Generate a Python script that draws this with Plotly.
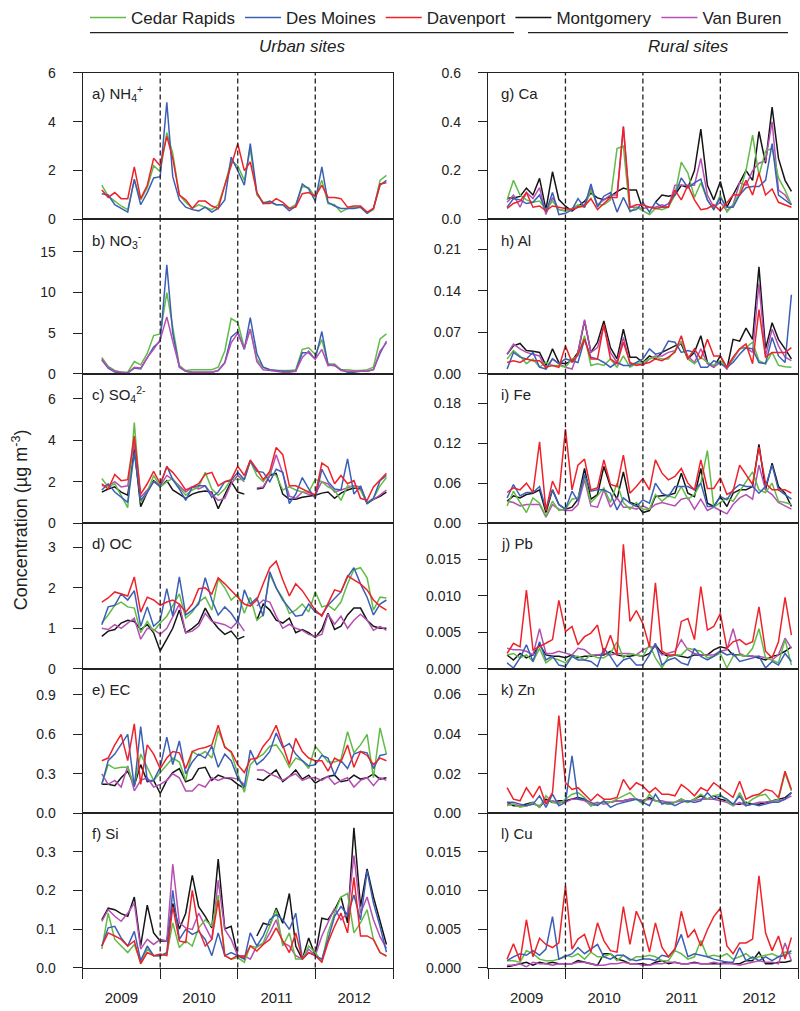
import plotly.graph_objects as go
import pandas as pd

# ---------------- data ----------------
months = pd.date_range('2009-04-01', periods=45, freq='MS')
sites = ['Cedar Rapids', 'Des Moines', 'Davenport', 'Montgomery', 'Van Buren']
site_colors = {'Cedar Rapids': '#62bb47', 'Des Moines': '#3c5fb6', 'Davenport': '#ee2229',
               'Montgomery': '#151515', 'Van Buren': '#b64fb4'}
N = None

# a) NH4+
a_CR = [1.4,0.95,0.75,0.55,0.4,1.6,0.8,1.3,2.2,1.95,3.55,2.7,1.0,0.7,0.45,0.6,0.5,0.4,0.6,1.4,2.4,2.2,1.6,2.9,1.0,0.7,0.7,0.6,0.6,0.45,0.6,1.35,1.3,0.9,1.6,0.65,0.6,0.3,0.45,0.5,0.5,0.25,0.4,1.6,1.8]
a_DM = [1.05,1.0,0.6,0.45,0.3,1.65,0.6,1.1,1.7,1.75,4.8,1.75,0.8,0.5,0.4,0.35,0.5,0.3,0.45,0.8,2.55,2.0,1.4,3.1,1.1,0.65,0.75,0.6,0.6,0.35,0.55,1.45,1.25,0.75,2.15,0.7,0.55,0.45,0.45,0.45,0.5,0.25,0.45,1.4,1.6]
a_DAV = [1.2,0.9,1.1,0.85,0.85,2.15,0.85,1.4,2.5,2.2,3.4,2.5,1.0,0.8,0.45,0.75,0.75,0.55,0.45,1.4,2.2,3.1,2.0,2.35,1.1,0.65,0.65,0.85,0.7,0.45,0.5,1.05,1.1,0.95,1.4,0.9,0.9,0.85,0.5,0.55,0.55,0.3,0.45,1.45,1.5]
# b) NO3-
b_CR = [2.0,0.9,0.4,0.2,0.2,1.5,1.1,2.5,4.7,4.9,10.0,5.5,1.0,0.4,0.5,0.5,0.5,0.5,0.8,2.8,6.8,6.3,3.2,5.5,1.8,0.8,0.5,0.4,0.4,0.4,0.5,3.0,3.2,2.4,4.2,1.2,1.2,0.5,0.5,0.4,0.4,0.5,0.8,4.3,4.9]
b_DM = [1.7,0.7,0.2,0.1,0.1,0.7,0.6,2.0,3.3,4.0,13.4,5.0,0.8,0.3,0.2,0.2,0.2,0.2,0.4,1.4,4.5,5.2,3.0,6.9,2.5,0.8,0.5,0.4,0.3,0.3,0.3,2.6,2.6,1.8,5.2,1.1,1.0,0.5,0.2,0.2,0.3,0.3,0.5,2.5,4.0]
b_DAV = [1.8,0.8,0.3,0.2,0.1,0.8,0.7,2.0,3.0,4.2,7.0,4.0,0.9,0.3,0.2,0.2,0.2,0.2,0.4,1.3,3.8,5.0,3.1,5.5,1.5,0.5,0.4,0.3,0.2,0.2,0.3,2.0,2.8,1.8,3.0,1.0,1.1,0.4,0.3,0.3,0.3,0.3,0.5,2.8,3.8]
# c) SO4 2-
c_CR = [2.15,1.75,1.9,1.35,0.75,4.85,1.0,1.5,2.3,1.75,2.0,2.15,1.75,1.35,1.6,1.75,2.45,1.65,1.35,1.65,2.1,2.1,2.1,3.0,2.3,2.0,2.45,2.3,1.6,1.75,1.6,1.5,1.5,2.1,2.0,1.75,1.6,1.1,1.8,1.75,1.6,1.0,1.2,1.8,2.2]
c_DM = [1.6,1.9,1.5,1.25,1.0,3.4,1.1,1.5,2.0,1.8,2.75,2.1,1.65,1.1,1.75,1.8,1.8,1.25,1.5,2.0,2.05,2.45,2.1,3.0,2.5,2.45,2.0,2.6,2.45,0.95,1.4,2.2,1.65,1.2,2.6,2.0,1.65,1.6,3.1,1.4,1.8,0.95,1.2,2.05,2.3]
c_DAV = [1.9,1.65,2.35,2.05,2.1,4.2,1.4,1.9,2.5,1.9,2.7,2.45,2.05,1.6,1.75,1.9,2.35,2.45,1.8,2.0,2.1,2.75,2.3,3.05,2.6,2.1,2.5,3.65,3.3,1.8,1.8,1.65,1.5,1.35,2.9,2.7,1.9,2.3,1.9,2.05,1.2,1.1,1.75,2.1,2.4]
c_MONT = [1.5,1.65,1.75,1.5,1.35,3.6,0.8,1.5,2.05,1.75,2.05,1.6,1.4,1.2,1.4,1.5,1.55,1.5,0.7,1.35,2.0,1.5,1.4,N,1.65,1.7,2.3,2.4,1.4,1.15,1.15,1.25,1.3,1.35,1.45,1.5,1.2,1.45,1.6,1.7,1.65,0.95,1.15,1.3,1.5]
c_VB = [1.8,1.8,2.0,1.75,1.8,3.9,1.25,1.6,2.0,1.8,2.3,2.1,1.8,1.5,1.75,1.65,1.8,1.4,1.1,1.2,1.9,2.3,2.0,N,1.7,1.75,2.3,3.3,2.4,1.3,1.2,1.5,1.4,1.4,2.0,1.9,1.5,1.6,1.7,1.8,1.75,1.0,1.15,1.35,1.6]
# d) OC
d_CR = [1.13,1.33,1.57,1.65,1.53,1.5,0.89,1.17,0.93,1.13,1.3,1.57,1.85,1.25,1.4,1.65,1.77,1.45,2.22,2.0,1.7,1.85,1.37,1.77,1.2,1.33,2.33,2.0,1.75,1.37,1.45,1.6,1.4,1.9,1.53,1.57,1.45,1.65,2.1,2.45,2.5,2.25,1.45,1.77,1.75]
d_DM = [1.09,1.53,1.57,1.85,1.7,1.93,1.05,1.53,1.05,1.2,1.98,1.3,2.27,1.33,1.45,1.6,2.25,1.7,1.33,1.53,1.37,1.13,1.95,1.6,1.75,1.3,2.4,2.0,1.7,1.5,1.3,1.33,1.6,1.4,1.33,1.57,1.75,1.9,2.27,2.5,2.1,1.77,1.33,1.6,1.7]
d_DAV = [1.65,1.75,1.9,1.85,1.8,2.27,1.4,1.77,1.7,1.57,1.65,1.7,1.6,1.4,1.6,1.98,2.0,1.85,2.25,2.1,1.93,1.77,1.6,1.55,1.7,2.1,2.5,2.66,2.2,1.8,2.1,1.93,1.7,1.45,1.3,1.6,1.95,1.9,2.3,2.2,2.1,1.95,1.7,1.55,1.45]
d_MONT = [0.8,0.93,0.97,1.13,1.2,1.17,0.97,1.09,0.89,0.44,0.73,1.0,1.45,0.89,1.0,1.13,1.5,1.2,1.0,0.85,0.93,0.73,0.8,N,1.2,1.6,1.45,1.2,1.13,1.25,0.89,0.97,0.89,0.77,0.97,1.37,0.97,1.05,1.33,1.5,1.5,1.2,1.05,1.0,1.0]
d_VB = [1.0,0.97,1.09,1.0,1.13,1.25,0.73,1.0,0.97,0.85,1.0,1.3,1.6,0.89,0.93,1.05,1.37,1.17,1.13,1.09,1.0,1.17,0.93,N,1.55,1.7,1.65,1.3,1.0,1.1,1.0,0.95,0.85,0.8,0.85,1.35,1.1,1.3,1.0,1.2,1.35,1.2,0.95,1.05,0.95]
# e) EC
e_CR = [0.22,0.37,0.34,0.35,0.35,0.21,0.45,0.35,0.25,0.31,0.37,0.42,0.39,0.25,0.47,0.44,0.47,0.42,0.63,0.51,0.46,0.3,0.16,0.37,0.42,0.45,0.51,0.52,0.45,0.35,0.42,0.4,0.34,0.51,0.45,0.39,0.39,0.41,0.62,0.46,0.52,0.6,0.27,0.65,0.45]
e_DM = [0.22,0.4,0.45,0.52,0.6,0.2,0.66,0.25,0.25,0.35,0.58,0.37,0.55,0.3,0.39,0.45,0.42,0.51,0.35,0.45,0.4,0.27,0.2,0.48,0.37,0.41,0.47,0.61,0.5,0.53,0.45,0.4,0.36,0.37,0.44,0.42,0.29,0.4,0.34,0.45,0.47,0.46,0.34,0.44,0.45]
e_DAV = [0.40,0.42,0.52,0.6,0.4,0.68,0.22,0.52,0.45,0.34,0.42,0.47,0.46,0.34,0.47,0.49,0.5,0.52,0.67,0.5,0.47,0.37,0.31,0.41,0.42,0.51,0.57,0.67,0.52,0.37,0.57,0.47,0.42,0.40,0.4,0.32,0.42,0.39,0.52,0.35,0.47,0.44,0.37,0.42,0.40]
e_MONT = [0.22,0.22,0.21,0.27,0.32,0.21,0.37,0.24,0.25,0.15,0.25,0.31,0.34,0.24,0.26,0.34,0.35,0.25,0.29,0.27,0.26,0.22,0.19,N,0.26,0.25,0.29,0.33,0.24,0.28,0.33,0.26,0.29,0.23,0.26,0.28,0.29,0.24,0.25,0.29,0.26,0.27,0.3,0.26,0.27]
e_VB = [0.3,0.22,0.25,0.2,0.36,0.17,0.25,0.27,0.2,0.22,0.25,0.3,0.27,0.17,0.17,0.22,0.2,0.27,0.25,0.27,0.27,0.26,0.22,N,0.33,0.33,0.3,0.28,0.25,0.28,0.3,0.25,0.27,0.27,0.25,0.28,0.22,0.25,0.27,0.2,0.25,0.27,0.21,0.27,0.25]
# f) Si
f_CR = [0.048,0.141,0.073,0.056,0.039,0.06,0.014,0.048,0.031,0.031,0.035,0.116,0.052,0.069,0.056,0.103,0.124,0.107,0.188,0.031,0.022,0.026,0.014,0.056,0.052,0.065,0.107,0.15,0.056,0.09,0.022,0.022,0.056,0.039,0.014,0.09,0.141,0.183,0.192,0.09,0.116,0.15,0.073,0.039,0.03]
f_DM = [0.056,0.103,0.107,0.077,0.056,0.094,0.018,0.056,0.031,0.031,0.039,0.2,0.073,0.099,0.086,0.094,0.073,0.031,0.09,0.031,0.039,0.031,0.022,0.09,0.056,0.082,0.124,0.137,0.124,0.099,0.141,0.022,0.039,0.031,0.022,0.073,0.133,0.158,0.137,0.188,0.124,0.251,0.167,0.107,0.04]
f_DAV = [0.056,0.09,0.082,0.073,0.056,0.069,0.01,0.039,0.031,0.035,0.031,0.158,0.069,0.065,0.2,0.099,0.056,0.073,0.175,0.031,0.022,0.031,0.026,0.056,0.043,0.06,0.073,0.103,0.069,0.039,0.09,0.022,0.039,0.031,0.014,0.065,0.107,0.141,0.09,0.234,0.082,0.082,0.073,0.039,0.03]
f_MONT = [0.124,0.154,0.15,0.14,0.133,0.183,0.056,0.162,0.09,0.069,0.069,0.166,0.1,0.141,0.239,0.158,0.133,0.103,0.281,0.1,0.107,0.031,0.026,N,0.082,0.115,0.11,0.154,0.115,0.192,0.056,0.022,0.077,0.031,0.128,0.124,0.15,0.183,0.116,0.362,0.158,0.256,0.183,0.124,0.06]
f_VB = [0.12,0.15,0.133,0.12,0.141,0.167,0.048,0.073,0.06,0.073,0.069,0.268,0.116,0.103,0.099,0.141,0.107,0.073,0.226,0.099,0.073,0.031,0.031,0.022,0.056,0.06,0.09,0.124,0.065,0.056,0.031,0.022,0.048,0.031,0.082,0.116,0.154,0.124,0.141,0.29,0.141,0.183,0.124,0.08,0.05]
# g) Ca
g_CR = [0.08,0.16,0.1,0.08,0.07,0.075,0.04,0.075,0.04,0.035,0.045,0.06,0.05,0.12,0.06,0.06,0.08,0.29,0.3,0.03,0.05,0.035,0.02,0.045,0.04,0.05,0.1,0.235,0.19,0.09,0.15,0.08,0.04,0.1,0.03,0.06,0.11,0.2,0.345,0.18,0.28,0.29,0.17,0.12,0.06]
g_DM = [0.05,0.085,0.08,0.065,0.07,0.1,0.03,0.11,0.02,0.025,0.04,0.085,0.05,0.145,0.05,0.095,0.11,0.03,0.09,0.035,0.04,0.07,0.03,0.07,0.05,0.065,0.1,0.17,0.13,0.15,0.165,0.08,0.04,0.09,0.05,0.05,0.1,0.13,0.135,0.135,0.16,0.31,0.1,0.08,0.06]
g_DAV = [0.045,0.065,0.075,0.11,0.05,0.055,0.035,0.055,0.05,0.045,0.04,0.05,0.055,0.085,0.04,0.065,0.09,0.09,0.38,0.05,0.06,0.06,0.05,0.045,0.05,0.05,0.12,0.08,0.14,0.08,0.04,0.045,0.06,0.035,0.07,0.1,0.1,0.16,0.1,0.19,0.1,0.125,0.07,0.06,0.05]
g_MONT = [0.088,0.088,0.094,0.128,0.1,0.168,0.04,0.195,0.081,0.054,0.034,0.054,0.074,0.108,0.088,0.081,0.094,0.114,0.128,0.12,0.12,0.04,N,0.07,0.1,0.095,0.1,0.14,0.13,0.2,0.37,0.14,0.08,0.155,0.05,0.1,0.15,0.2,0.16,0.36,0.23,0.46,0.25,0.16,0.115]
g_VB = [0.07,0.1,0.05,0.11,0.085,0.13,0.02,0.09,0.04,0.035,0.045,0.05,0.06,0.13,0.06,0.08,0.1,0.1,0.38,0.05,0.05,0.045,0.05,0.05,0.06,0.05,0.14,0.14,0.14,0.14,0.25,0.1,0.05,0.07,0.035,0.06,0.15,0.14,0.2,0.23,0.24,0.4,0.12,0.1,0.06]
# h) Al
h_CR = [0.025,0.039,0.03,0.017,0.025,0.011,0.019,0.014,0.014,0.011,0.025,0.03,0.064,0.014,0.017,0.014,0.025,0.011,0.03,0.011,0.017,0.019,0.025,0.028,0.025,0.025,0.039,0.055,0.025,0.017,0.028,0.019,0.014,0.022,0.011,0.025,0.042,0.044,0.053,0.022,0.017,0.036,0.014,0.012,0.011]
h_DM = [0.008,0.036,0.028,0.025,0.036,0.011,0.008,0.025,0.017,0.025,0.022,0.019,0.058,0.028,0.025,0.019,0.011,0.019,0.014,0.014,0.019,0.025,0.042,0.033,0.036,0.055,0.053,0.036,0.039,0.036,0.011,0.011,0.022,0.017,0.011,0.019,0.033,0.044,0.042,0.019,0.017,0.061,0.03,0.019,0.133]
h_DAV = [0.019,0.022,0.019,0.025,0.022,0.022,0.011,0.014,0.011,0.047,0.019,0.033,0.058,0.025,0.025,0.083,0.025,0.017,0.053,0.019,0.014,0.017,0.019,0.025,0.022,0.028,0.036,0.064,0.025,0.042,0.025,0.058,0.03,0.03,0.011,0.028,0.042,0.05,0.017,0.108,0.028,0.036,0.036,0.036,0.044]
h_MONT = [0.033,0.047,0.051,0.039,0.038,0.036,0.014,0.042,0.019,0.017,0.022,0.036,0.089,0.036,0.053,0.089,0.044,0.025,0.075,0.028,0.028,0.019,0.03,0.025,0.036,0.042,0.047,0.05,0.025,0.036,0.064,0.019,0.011,0.03,0.008,0.058,0.055,0.077,0.058,0.18,0.042,0.086,0.058,0.042,0.025]
h_VB = [0.033,0.05,0.042,0.036,0.033,0.03,0.008,0.025,0.017,0.011,0.008,0.036,0.091,0.036,0.044,0.08,0.036,0.019,0.061,0.017,0.017,0.014,0.025,0.03,0.03,0.036,0.039,0.053,0.03,0.019,0.042,0.017,0.011,0.019,0.008,0.025,0.042,0.044,0.036,0.152,0.03,0.075,0.047,0.028,0.022]
# i) Fe
i_CR = [0.026,0.048,0.031,0.016,0.038,0.03,0.011,0.033,0.019,0.021,0.036,0.038,0.07,0.031,0.041,0.053,0.031,0.06,0.031,0.021,0.031,0.021,0.021,0.043,0.033,0.041,0.038,0.055,0.036,0.043,0.06,0.109,0.024,0.031,0.038,0.033,0.048,0.063,0.077,0.05,0.046,0.06,0.033,0.031,0.028]
i_DM = [0.038,0.058,0.041,0.046,0.046,0.055,0.021,0.05,0.028,0.021,0.048,0.033,0.073,0.048,0.05,0.05,0.045,0.02,0.038,0.03,0.025,0.035,0.03,0.06,0.045,0.04,0.055,0.055,0.055,0.05,0.06,0.025,0.025,0.04,0.035,0.05,0.058,0.055,0.055,0.045,0.055,0.087,0.05,0.043,0.036]
i_DAV = [0.046,0.053,0.05,0.06,0.046,0.122,0.019,0.063,0.043,0.141,0.05,0.087,0.096,0.05,0.053,0.095,0.058,0.055,0.102,0.045,0.055,0.067,0.05,0.095,0.075,0.065,0.07,0.082,0.06,0.05,0.095,0.052,0.052,0.068,0.043,0.048,0.087,0.073,0.058,0.114,0.06,0.05,0.05,0.05,0.045]
i_MONT = [0.033,0.041,0.038,0.043,0.045,0.05,0.016,0.05,0.028,0.021,0.024,0.036,0.082,0.036,0.043,0.085,0.055,0.036,0.077,0.031,0.028,0.016,0.019,0.04,0.041,0.042,0.045,0.075,0.045,0.04,0.082,0.03,0.025,0.04,0.025,0.045,0.05,0.05,0.055,0.118,0.05,0.09,0.055,0.045,0.025]
i_VB = [0.033,0.031,0.026,0.028,0.028,0.028,0.009,0.028,0.021,0.019,0.019,0.028,0.065,0.026,0.024,0.05,0.024,0.038,0.024,0.024,0.021,0.026,0.021,0.028,0.031,0.028,0.026,0.036,0.038,0.021,0.036,0.019,0.024,0.019,0.014,0.028,0.038,0.043,0.036,0.087,0.05,0.043,0.031,0.026,0.021]
# j) Pb
j_CR = [0.0019,0.0021,0.0015,0.0019,0.001,0.0028,0.0008,0.0015,0.0012,0.0008,0.0017,0.0017,0.0012,0.0019,0.0015,0.0015,0.0021,0.0037,0.0015,0.0021,0.0019,0.0017,0.0033,0.0015,0.0001,0.0017,0.0019,0.0019,0.0028,0.0026,0.0024,0.0015,0.0017,0.0021,0.0001,0.0017,0.0019,0.0017,0.0028,0.0055,0.0015,0.0012,0.0008,0.004,0.0005]
j_DM = [0.0008,0.0001,0.0015,0.0033,0.001,0.0037,0.0012,0.0017,0.0005,0.0003,0.0017,0.0012,0.0012,0.001,0.0003,0.0028,0.0017,0.0003,0.0012,0.0015,0.0005,0.0005,0.0019,0.0035,0.0005,0.0012,0.0015,0.0008,0.0005,0.0028,0.0017,0.0012,0.0017,0.0024,0.0019,0.0021,0.001,0.0012,0.0015,0.0017,0.0001,0.001,0.0005,0.0021,0.001]
j_DAV = [0.0021,0.0035,0.003,0.0108,0.0026,0.003,0.0035,0.004,0.0094,0.0051,0.0058,0.0033,0.0044,0.0049,0.006,0.0021,0.0046,0.0019,0.0171,0.0065,0.008,0.0062,0.003,0.0118,0.0024,0.0019,0.0019,0.0065,0.0069,0.004,0.0113,0.0053,0.0058,0.0076,0.0028,0.0037,0.004,0.0033,0.0037,0.0085,0.0024,0.0015,0.0037,0.0098,0.0046]
j_MONT = [0.0019,0.0012,0.0021,0.0015,0.0019,0.0033,0.0019,0.0017,0.0017,0.0015,0.0019,0.0015,0.0017,0.0017,0.0019,0.0019,0.0024,0.0019,0.0017,0.0017,0.0019,0.0017,0.0021,0.0033,0.0021,0.0017,0.0019,0.0017,0.0015,0.0019,0.0019,0.0019,0.0026,0.003,0.0028,0.0019,0.0019,0.0017,0.0017,0.0015,0.0012,0.0017,0.0019,0.0024,0.003]
j_VB = [0.0028,0.0026,0.0026,0.0024,0.0019,0.0055,0.0021,0.0021,0.0024,0.0021,0.0019,0.0028,0.0026,0.0019,0.0019,0.0021,0.0019,0.0021,0.0021,0.0021,0.0019,0.0026,0.003,0.003,0.0019,0.0021,0.0024,0.004,0.0026,0.0021,0.0019,0.0019,0.0019,0.0024,0.0026,0.0055,0.0021,0.0017,0.0017,0.0017,0.0015,0.0012,0.0019,0.0042,0.0028]
# k) Zn
k_CR = [0.0038,0.0046,0.003,0.0038,0.0055,0.003,0.0088,0.0055,0.0046,0.0071,0.0096,0.0104,0.0079,0.0038,0.0046,0.0055,0.0055,0.0071,0.0088,0.0104,0.0071,0.0046,0.0096,0.0063,0.0055,0.0046,0.0055,0.0071,0.0055,0.0071,0.0096,0.0071,0.0088,0.0096,0.0063,0.0038,0.0104,0.0046,0.0071,0.0088,0.0096,0.0055,0.0071,0.0203,0.0112]
k_DM = [0.0055,0.0055,0.0046,0.0038,0.0046,0.0088,0.003,0.0096,0.0038,0.0055,0.029,0.0071,0.0071,0.0055,0.0038,0.0063,0.003,0.0046,0.0055,0.0063,0.0071,0.0055,0.0038,0.0096,0.0046,0.0055,0.0038,0.0055,0.0063,0.0055,0.0063,0.0104,0.0071,0.0088,0.0071,0.0046,0.0088,0.0038,0.0046,0.0038,0.0046,0.0055,0.0055,0.0071,0.0104]
k_DAV = [0.0129,0.0071,0.0063,0.0129,0.008,0.0137,0.0046,0.0104,0.0493,0.0154,0.012,0.0129,0.0096,0.0063,0.0096,0.0071,0.0071,0.008,0.0171,0.012,0.0154,0.0137,0.0104,0.0129,0.0096,0.0096,0.0088,0.0145,0.012,0.0088,0.0129,0.0112,0.0154,0.0129,0.0104,0.008,0.0162,0.0071,0.0088,0.0096,0.012,0.0112,0.008,0.0212,0.012]
k_MONT = [0.0055,0.0038,0.0038,0.0046,0.0055,0.003,0.0071,0.0055,0.0063,0.0063,0.0071,0.0079,0.0071,0.0038,0.0046,0.0055,0.0055,0.0063,0.0063,0.0071,0.0071,0.0063,0.0079,0.0063,0.0055,0.0046,0.0055,0.0071,0.0055,0.0071,0.0088,0.0071,0.0088,0.0071,0.0063,0.0046,0.0046,0.0055,0.0046,0.0046,0.0055,0.0063,0.0071,0.0079,0.0104]
k_VB = [0.0046,0.0046,0.0038,0.0038,0.0046,0.0038,0.0063,0.0063,0.0055,0.0055,0.0071,0.0071,0.0063,0.0046,0.0055,0.0046,0.0055,0.0063,0.0063,0.0071,0.0071,0.0063,0.0071,0.0063,0.0063,0.0055,0.0055,0.0063,0.0058,0.0063,0.0071,0.0071,0.0071,0.0063,0.0055,0.0038,0.0055,0.0038,0.0046,0.0055,0.0055,0.0063,0.0063,0.0071,0.0088]
# l) Cu
l_CR = [0.0009,0.0009,0.0007,0.0022,0.0018,0.0011,0.0009,0.0009,0.0011,0.0016,0.0014,0.0018,0.0011,0.002,0.0014,0.0014,0.0018,0.0009,0.0016,0.0009,0.0014,0.0014,0.0016,0.0014,0.0009,0.0009,0.0022,0.0018,0.0011,0.0014,0.0035,0.0014,0.0016,0.0014,0.0018,0.0011,0.0014,0.0018,0.0011,0.0014,0.0016,0.0018,0.0014,0.002,0.0018]
l_DM = [0.0009,0.0014,0.0018,0.0016,0.0022,0.0016,0.0024,0.0066,0.0011,0.0014,0.0018,0.0026,0.0018,0.0024,0.003,0.0014,0.0011,0.0016,0.0016,0.0011,0.0009,0.0011,0.0011,0.0009,0.0016,0.0014,0.0024,0.0043,0.0014,0.0018,0.0016,0.0014,0.0011,0.0009,0.0007,0.0007,0.0026,0.0009,0.0014,0.0009,0.0014,0.0009,0.0014,0.0016,0.0022]
l_DAV = [0.0011,0.0031,0.0009,0.0062,0.0014,0.0038,0.003,0.0026,0.0032,0.0106,0.0024,0.0037,0.0043,0.002,0.0058,0.0035,0.0022,0.002,0.0079,0.003,0.0073,0.0054,0.002,0.0058,0.0026,0.0014,0.0024,0.0073,0.0039,0.0049,0.0028,0.0049,0.0066,0.0077,0.0028,0.0018,0.0032,0.0032,0.0037,0.0119,0.0045,0.0022,0.0041,0.0011,0.0039]
l_MONT = [0.0001,0.0003,0.0005,0.0007,0.0003,0.0007,0.0005,0.0007,0.0005,0.0005,0.0005,0.0009,0.0007,0.0005,0.0003,0.0018,0.0018,0.0011,0.0009,0.0005,0.0005,0.0005,0.0003,0.0007,0.0009,0.0005,0.0007,0.0005,0.0005,0.0007,0.0005,0.0005,0.0005,0.0005,0.0007,0.0005,0.0005,0.0009,0.0009,0.002,0.0005,0.0005,0.0007,0.0007,0.0009]
l_VB = [0.0003,0.0003,0.0005,0.0001,0.0007,0.0005,0.0005,0.0003,0.0005,0.0005,0.0005,0.0007,0.0007,0.0005,0.0003,0.0003,0.0005,0.0005,0.0007,0.0005,0.0005,0.0003,0.0003,0.0005,0.0005,0.0007,0.0007,0.0005,0.0005,0.0006,0.0005,0.0005,0.0007,0.0005,0.0005,0.0005,0.0003,0.0005,0.0007,0.0009,0.0007,0.0007,0.0005,0.0032,0.0009]

# y axis ranges and tick labels per panel
y_ranges = {'a': [0, 6], 'b': [0, 19], 'c': [0, 7.2], 'd': [0, 3.6], 'e': [0, 1.1], 'f': [0, 0.4],
            'g': [0, 0.6], 'h': [0, 0.26], 'i': [0, 0.224], 'j': [0, 0.02], 'k': [0, 0.073], 'l': [0, 0.02]}
y_ticks = {'a': ['0', '2', '4', '6'], 'b': ['0', '5', '10', '15'], 'c': ['0', '2', '4', '6'],
           'd': ['0', '1', '2', '3'], 'e': ['0.0', '0.3', '0.6', '0.9'], 'f': ['0.0', '0.1', '0.2', '0.3'],
           'g': ['0.0', '0.2', '0.4', '0.6'], 'h': ['0.00', '0.07', '0.14', '0.21'],
           'i': ['0.00', '0.06', '0.12', '0.18'], 'j': ['0.000', '0.005', '0.010', '0.015'],
           'k': ['0.00', '0.02', '0.04', '0.06'], 'l': ['0.000', '0.005', '0.010', '0.015']}
labels = {'a': 'a) NH<sub>4</sub><sup>+</sup>', 'b': 'b) NO<sub>3</sub><sup>-</sup>', 'c': 'c) SO<sub>4</sub><sup>2-</sup>',
          'd': 'd) OC', 'e': 'e) EC', 'f': 'f) Si', 'g': 'g) Ca', 'h': 'h) Al', 'i': 'i) Fe',
          'j': 'j) Pb', 'k': 'k) Zn', 'l': 'l) Cu'}
year_lines = ['2010-01-01', '2011-01-01', '2012-01-01']

G = globals()
panel_keys = list('abcdefghijkl')
suffix = {'Cedar Rapids': 'CR', 'Des Moines': 'DM', 'Davenport': 'DAV', 'Montgomery': 'MONT', 'Van Buren': 'VB'}

# ---------------- layout geometry (pixels) ----------------
W, H = 800, 1011
row_edges = [65, 214, 371, 523, 671, 818, 975]
col_x = [(82.7, 393.0), (488.0, 798.0)]

fig = go.Figure()
draw_order = ['Montgomery', 'Van Buren', 'Cedar Rapids', 'Des Moines', 'Davenport']
legend_done = set()
shapes, annotations = [], []
font_main = 'Liberation Sans, Arial, sans-serif'
font_narrow = 'Liberation Sans Narrow, Liberation Sans, Arial, sans-serif'

for n, key in enumerate(panel_keys, start=1):
    col = 0 if n <= 6 else 1
    row = (n - 1) % 6
    sfx = '' if n == 1 else str(n)
    xa, ya = f'x{sfx}', f'y{sfx}'
    for site in draw_order:
        name = f'{key}_{suffix[site]}'
        if name not in G:
            continue
        vals = G[name]
        assert len(vals) == 45, name
        color = site_colors[site]
        if key == 'b' and site == 'Davenport':
            color = '#b64fb4'
        show = site not in legend_done and key == 'c'
        if show:
            legend_done.add(site)
        fig.add_trace(go.Scatter(x=months, y=vals, mode='lines', name=site, xaxis=xa, yaxis=ya,
                                 line=dict(color=color, width=1.5), connectgaps=False,
                                 showlegend=show, legendrank=sites.index(site) + 1))
    x0, x1 = col_x[col]
    top, bot = row_edges[row], row_edges[row + 1]
    bottom_row = row == 5
    xaxis = dict(domain=[x0 / W, x1 / W], anchor=ya, type='date', range=['2009-01-01', '2013-01-01'],
                 showline=True, linecolor='#222', linewidth=1.3, mirror=True, showgrid=False, zeroline=False,
                 ticks='outside' if bottom_row else '', ticklen=10, tickcolor='#222', tickwidth=1.3,
                 dtick='M12', tick0='2009-01-01', tickformat='%Y', ticklabelmode='period',
                 showticklabels=bottom_row, tickfont=dict(family=font_main, size=15, color='#222'),
                 ticklabelstandoff=6)
    rng = y_ranges[key]
    tt = y_ticks[key]
    yaxis = dict(domain=[1 - bot / H, 1 - top / H], anchor=xa, range=rng, showline=True, mirror=True,
                 linecolor='#222', linewidth=1.3, showgrid=False, zeroline=False, ticks='outside',
                 ticklen=9, tickcolor='#222', tickwidth=1.3, tickvals=[float(t) for t in tt], ticktext=tt,
                 tickfont=dict(family=font_main, size=14, color='#222'),
                 ticklabelstandoff=14)
    fig.layout[f'xaxis{sfx}'] = xaxis
    fig.layout[f'yaxis{sfx}'] = yaxis
    for d in year_lines:
        shapes.append(dict(type='line', xref=xa, yref=f'{ya} domain', x0=d, x1=d, y0=0, y1=1,
                           line=dict(color='#222', width=1.3, dash='5px,3px')))
    annotations.append(dict(text=labels[key], xref=f'{xa} domain', yref=f'{ya} domain',
                            x=0.025 if col == 0 else 0.035, y=1 - 21 / (bot - top), xanchor='left',
                            yanchor='middle', showarrow=False,
                            font=dict(family=font_main, size=15, color='#222')))

# group headers under the legend
for (px0, px1, txt, cx) in [(90, 514, 'Urban sites', 302), (528, 788, 'Rural sites', 688)]:
    shapes.append(dict(type='line', xref='paper', yref='paper', x0=px0 / W, x1=px1 / W,
                       y0=1 - 24 / H, y1=1 - 24 / H, line=dict(color='#222', width=1.3)))
    annotations.append(dict(text=f'<i>{txt}</i>', xref='paper', yref='paper', x=cx / W, y=1 - 38 / H,
                            xanchor='center', yanchor='middle', showarrow=False,
                            font=dict(family=font_narrow, size=17, color='#222')))

annotations.append(dict(text='Concentration (µg m<sup>-3</sup>)', xref='paper', yref='paper',
                        x=20 / W, y=1 - 520 / H, textangle=-90, xanchor='center', yanchor='middle',
                        showarrow=False, font=dict(family=font_narrow, size=18, color='#222')))

fig.update_layout(width=W, height=H, margin=dict(l=0, r=0, t=0, b=0),
                  paper_bgcolor='white', plot_bgcolor='white', shapes=shapes, annotations=annotations,
                  legend=dict(orientation='h', x=85 / W, y=1 - 9 / H, xanchor='left', yanchor='middle',
                              font=dict(family=font_narrow, size=17, color='#222'),
                              bgcolor='rgba(0,0,0,0)', traceorder='normal', itemwidth=36))

# the page's default body margin would offset the figure; remove it. Hide the mode bar.
fig.write_html('out.html', config={'displayModeBar': False},
               post_script="document.body.style.margin='0px';")
